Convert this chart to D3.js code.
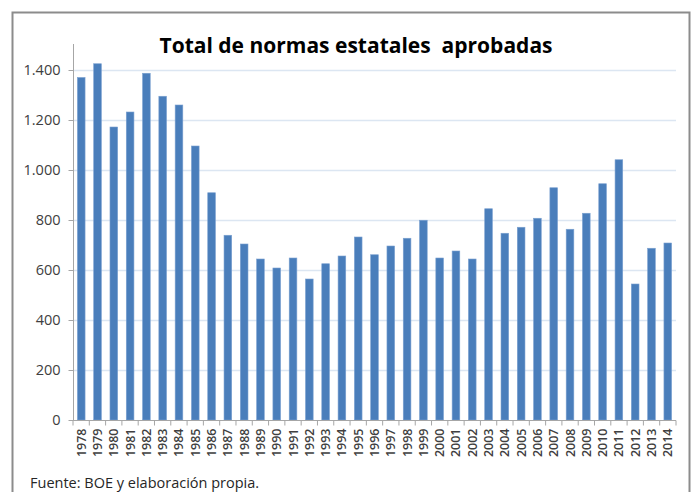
<!DOCTYPE html>
<html><head><meta charset="utf-8">
<script src="https://cdn.jsdelivr.net/npm/d3@7"></script>
<style>body{margin:0;background:#fff}svg{display:block}</style>
</head><body>
<script>
const years = ["1978","1979","1980","1981","1982","1983","1984","1985","1986","1987","1988","1989","1990","1991","1992","1993","1994","1995","1996","1997","1998","1999","2000","2001","2002","2003","2004","2005","2006","2007","2008","2009","2010","2011","2012","2013","2014"];
const values = [1370,1425,1172,1232,1387,1295,1260,1096,909,739,704,644,608,648,564,625,656,732,661,696,727,799,648,676,644,845,747,771,807,929,763,827,945,1041,544,687,708];
const yTicks = [0,200,400,600,800,1000,1200,1400];
const title = "Total de normas estatales  aprobadas";
const source = "Fuente: BOE y elaboración propia.";

const W = 696, H = 492;
const svg = d3.select("body").append("svg").attr("width", W).attr("height", H);
svg.append("rect").attr("x",12.5).attr("y",12.5).attr("width",677).attr("height",H+10)
  .attr("fill","#fff").attr("stroke","#8c8c8c").attr("stroke-width",2);

const pLeft = 73, pRight = 676, pTop = 44, pBottom = 420;
const x = d3.scaleBand().domain(years).range([pLeft, pRight]).paddingInner(0.53).paddingOuter(0.27);
const y = d3.scaleLinear().domain([0,1400]).range([pBottom, pBottom - 350]);

// gridlines
svg.append("g").selectAll("line").data(yTicks.filter(d=>d>0)).join("line")
  .attr("x1", pLeft).attr("x2", pRight).attr("y1", d=>y(d)+0.5).attr("y2", d=>y(d)+0.5)
  .attr("stroke","#dce6f2").attr("stroke-width",1.5);

// bars
svg.append("g").selectAll("rect").data(values).join("rect")
  .attr("x",(d,i)=>x(years[i])).attr("width",x.bandwidth())
  .attr("y",d=>y(d)).attr("height",d=>y(0)-y(d))
  .attr("fill","#4a7ebb").attr("stroke","#7aa0d0").attr("stroke-width",0.6);

// y axis
const yAxis = d3.axisLeft(y).tickValues(yTicks).tickSize(5).tickPadding(8)
  .tickFormat(d=>d3.format(",")(d).replace(/,/g,"."));
const gy = svg.append("g").attr("transform",`translate(${pLeft+0.5},0)`).call(yAxis);
gy.select(".domain").attr("d",`M0,${pTop}V${pBottom}`).attr("stroke","#a6a6a6");
gy.selectAll(".tick line").attr("stroke","#a6a6a6");
gy.selectAll("text").attr("fill","#404040").style("font-family","'Open Sans', sans-serif").style("font-size","14.5px");

// x axis
const gx = svg.append("g").attr("transform",`translate(0,${pBottom+0.5})`);
gx.append("line").attr("x1",pLeft).attr("x2",pRight).attr("stroke","#a6a6a6");
gx.selectAll("line.t").data(d3.range(years.length+1)).join("line").attr("class","t")
  .attr("x1",i=>pLeft + i*(pRight-pLeft)/years.length).attr("x2",i=>pLeft + i*(pRight-pLeft)/years.length)
  .attr("y1",0).attr("y2",5).attr("stroke","#a6a6a6");
gx.selectAll("text").data(years).join("text")
  .attr("transform",d=>`translate(${x(d)+x.bandwidth()/2+4.5},8) rotate(-90)`)
  .attr("text-anchor","end").attr("fill","#404040")
  .style("font-family","'Open Sans', sans-serif").style("font-size","12.5px").style("font-weight","600")
  .text(d=>d);

svg.append("text").attr("x",356).attr("y",53).attr("text-anchor","middle")
  .style("white-space","pre")
  .style("font-family","'Open Sans', sans-serif").style("font-size","21px").style("font-weight","bold")
  .attr("fill","#000").text(title);
svg.append("text").attr("x",30).attr("y",488)
  .style("font-family","'Open Sans', sans-serif").style("font-size","14.5px").attr("fill","#262626").text(source);
</script>
</body></html>
